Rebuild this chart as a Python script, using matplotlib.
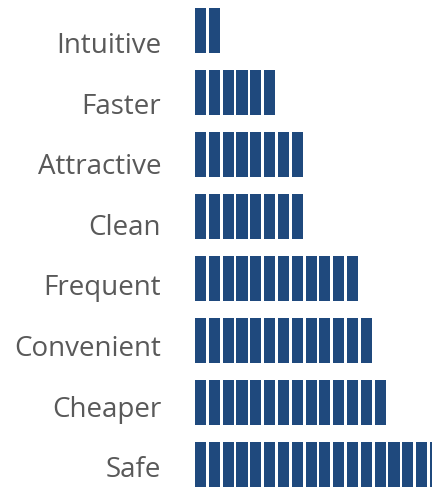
import matplotlib
matplotlib.use("Agg")
import matplotlib.pyplot as plt
import numpy as np

categories = ["Intuitive", "Faster", "Attractive", "Clean", "Frequent", "Convenient", "Cheaper", "Safe"]
values = [2, 6, 8, 8, 12, 13, 14, 18]

W, H = 432, 487
fig = plt.figure(figsize=(W / 100, H / 100), dpi=100)
unit_px = 13.82
left_px = 195
ax = fig.add_axes([left_px / W, 0, 1 - left_px / W, 1])
ax.set_xlim(0, (W - left_px) / unit_px)
pitch = 62.0
c0 = 30.5
ax.set_ylim((H - c0) / pitch, -c0 / pitch)

color = "#1F497D"
rows = np.arange(len(categories))
for r, v in zip(rows, values):
    lefts = np.arange(v)
    ax.barh(np.full(v, r), 0.8, left=lefts, height=45 / pitch, color=color, linewidth=0)

ax.set_yticks([])
ax.set_xticks([])
for s in ax.spines.values():
    s.set_visible(False)

# category labels (baseline positions in pixels)
label_pitch = 60.6
base0 = 53.0
for k, name in enumerate(categories):
    y_px = base0 + label_pitch * k
    fig.text(161 / W, 1 - y_px / H, name, ha="right", va="baseline",
             fontsize=20, color="#595959", family="Open Sans")

fig.savefig("out.png", dpi=100)
